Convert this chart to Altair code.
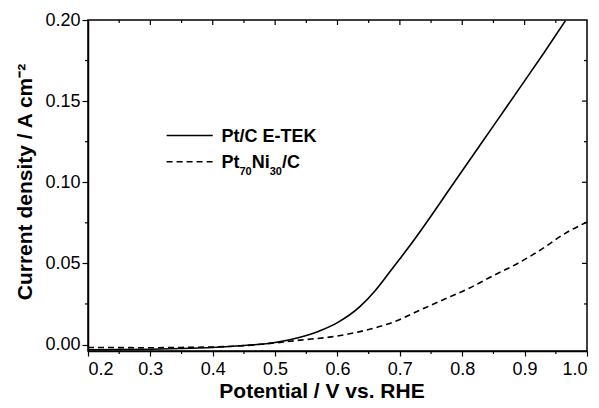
import altair as alt
import pandas as pd

# ---- data ----
ptc_v = [0.20, 0.25, 0.30, 0.35, 0.40, 0.45, 0.50, 0.54, 0.57, 0.60, 0.635, 0.66,
         0.68, 0.70, 0.72, 0.75, 0.775, 0.80, 0.855, 0.90, 0.93, 0.9655]
ptc_j = [-0.0032, -0.0031, -0.0029, -0.0025, -0.0018, -0.0006, 0.0012, 0.0045, 0.0082,
         0.0135, 0.0230, 0.0330, 0.0428, 0.0528, 0.0630, 0.0792, 0.0932, 0.1071,
         0.1375, 0.1625, 0.1792, 0.1996]

ptni_v = [0.20, 0.25, 0.30, 0.35, 0.40, 0.45, 0.50, 0.54, 0.59, 0.645, 0.69, 0.73,
          0.773, 0.81, 0.85, 0.89, 0.925, 0.965, 1.00]
ptni_j = [-0.0018, -0.0019, -0.0020, -0.0018, -0.0015, -0.0007, 0.0010, 0.0027, 0.0047,
          0.0088, 0.0139, 0.0208, 0.0282, 0.0345, 0.0425, 0.0502, 0.0582, 0.0685, 0.0755]

x_major = [0.2, 0.3, 0.4, 0.5, 0.6, 0.7, 0.8, 0.9, 1.0]
x_minor = [0.25, 0.35, 0.45, 0.55, 0.65, 0.75, 0.85, 0.95]
y_major = [0.0, 0.05, 0.10, 0.15, 0.20]
y_minor = [0.025, 0.075, 0.125, 0.175]

legend_x = [0.326, 0.400]
legend_y = [0.1288, 0.1126]
legend_text_x = 0.414

W, H = 499, 331
FONT = "Liberation Sans"

xscale = alt.Scale(domain=[0.2, 1.0], nice=False, zero=False)
yscale = alt.Scale(domain=[-0.004, 0.2], nice=False, zero=False)

xaxis = alt.Axis(values=x_major, format=".1f", title="Potential / V vs. RHE",
                 titleX=233.5, titleY=46, titleBaseline="alphabetic",
                 titleAlign="center", tickSize=5, labelPadding=4)
yaxis = alt.Axis(values=y_major, format=".2f", title="Current density / A cm⁻²",
                 titleX=-63, titleY=161.5, titleBaseline="middle",
                 titleAlign="center", titleAngle=-90, tickSize=6, labelPadding=2)


def X(f="x"):
    return alt.X(f"{f}:Q", scale=xscale, axis=xaxis)


def Y(f="y"):
    return alt.Y(f"{f}:Q", scale=yscale, axis=yaxis)


df_ptc = pd.DataFrame({"x": ptc_v, "y": ptc_j})
df_ptni = pd.DataFrame({"x": ptni_v, "y": ptni_j})

solid = alt.Chart(df_ptc).mark_line(color="black", strokeWidth=1.6, clip=True,
                                    interpolate="monotone").encode(x=X(), y=Y())

dashed = alt.Chart(df_ptni).mark_line(color="black", strokeWidth=1.6, strokeDash=[6, 4],
                                      clip=True, interpolate="monotone").encode(x=X(), y=Y())

# legend
df_leg_s = pd.DataFrame({"x": [legend_x[0]], "x2": [legend_x[1]], "y": [legend_y[0]]})
df_leg_d = pd.DataFrame({"x": [legend_x[0]], "x2": [legend_x[1]], "y": [legend_y[1]]})
leg_solid = alt.Chart(df_leg_s).mark_rule(color="black", strokeWidth=1.6).encode(
    x=X(), x2="x2:Q", y=Y())
leg_dash = alt.Chart(df_leg_d).mark_rule(color="black", strokeWidth=1.6,
                                         strokeDash=[6, 4]).encode(x=X(), x2="x2:Q", y=Y())


def txt(text, y, dx, dy, size):
    d = pd.DataFrame({"x": [legend_text_x], "y": [y], "t": [text]})
    return alt.Chart(d).mark_text(align="left", baseline="alphabetic", dx=dx, dy=dy,
                                  fontSize=size, fontWeight="bold", font=FONT,
                                  color="black").encode(x=X(), y=Y(), text="t:N")


texts = [
    txt("Pt/C E-TEK", legend_y[0], 0, 6.5, 18),
    txt("Pt", legend_y[1], 0, 6.5, 18),
    txt("70", legend_y[1], 18, 13, 11),
    txt("Ni", legend_y[1], 30.2, 6.5, 18),
    txt("30", legend_y[1], 48.2, 13, 11),
    txt("/C", legend_y[1], 60.4, 6.5, 18),
]


# ticks (minor and mirrored)
def xticks(vals, y0, y1):
    d = pd.DataFrame({"x": vals})
    return alt.Chart(d).mark_rule(color="black", strokeWidth=1.2).encode(
        x=X(), y=alt.value(y0), y2=alt.value(y1))


def yticks(vals, x0, x1):
    d = pd.DataFrame({"y": vals})
    return alt.Chart(d).mark_rule(color="black", strokeWidth=1.2).encode(
        y=Y(), x=alt.value(x0), x2=alt.value(x1))


tick_layers = [
    xticks(x_minor, H, H + 3),
    xticks(x_major[1:-1], 0, 5),
    xticks(x_minor, 0, 3),
    yticks(y_minor, 0, -3),
    yticks(y_major[1:-1], W, W - 5),
    yticks(y_minor, W, W - 3),
]

chart = alt.layer(solid, dashed, leg_solid, leg_dash, *texts, *tick_layers).properties(
    width=W, height=H,
    padding={"left": 80, "top": 12, "right": 4, "bottom": 49},
    autosize=alt.AutoSizeParams(type="none"),
    background="white",
).configure_view(stroke="black", strokeWidth=1.5).configure_axis(
    grid=False, domainColor="black", domainWidth=1.5, tickColor="black", tickWidth=1.2,
    labelFont=FONT, labelFontSize=18, labelColor="black",
    titleFont=FONT, titleFontSize=21, titleFontWeight="bold", titleColor="black",
)

chart.save("out.html", embed_options={"renderer": "svg", "actions": False})
